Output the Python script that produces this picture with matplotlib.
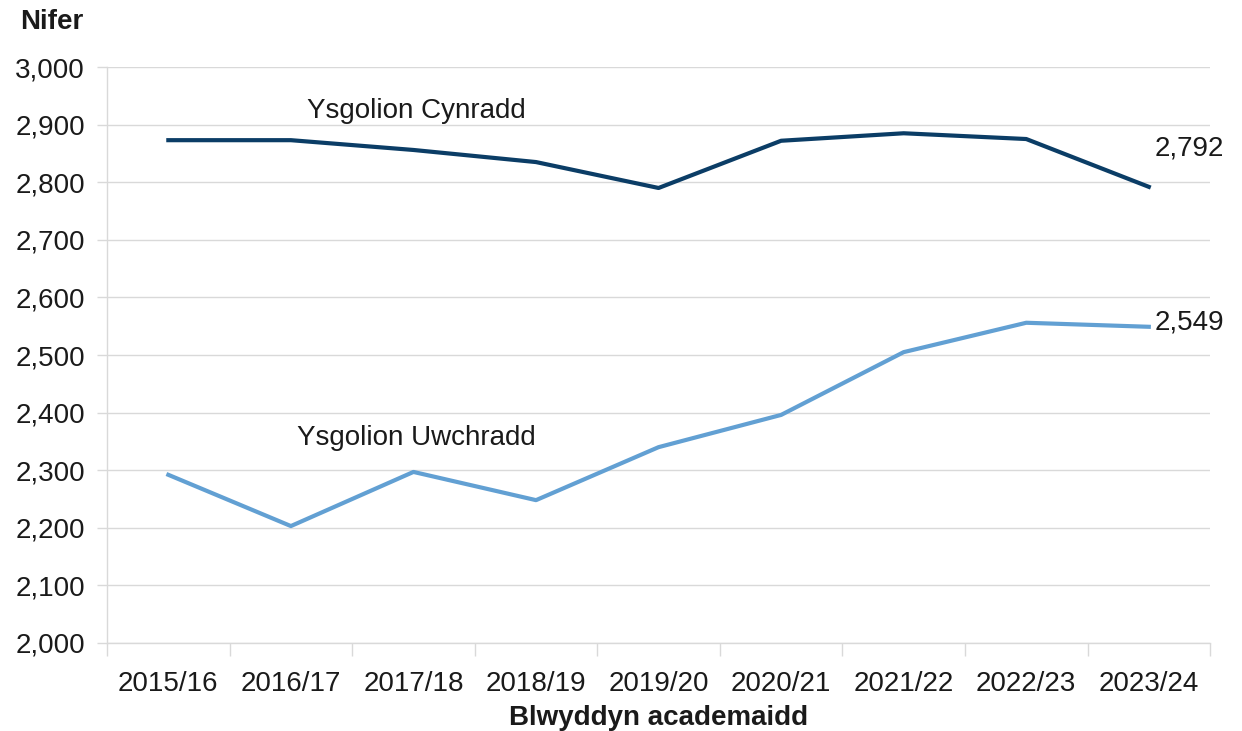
import matplotlib
matplotlib.use("Agg")
import matplotlib.pyplot as plt
import numpy as np

plt.rcParams['font.family'] = ['Liberation Sans', 'DejaVu Sans']

years = ["2015/16", "2016/17", "2017/18", "2018/19", "2019/20",
         "2020/21", "2021/22", "2022/23", "2023/24"]
cynradd = [2873, 2873, 2856, 2835, 2790, 2872, 2885, 2875, 2792]
uwchradd = [2292, 2203, 2297, 2248, 2340, 2396, 2505, 2556, 2549]
yticks = list(range(2000, 3001, 100))

dark = "#0b3d66"
light = "#62a0d3"
grid = "#d9d9d9"
txt = "#1a1a1a"
fs = 20

fig = plt.figure(figsize=(12.42, 7.31), dpi=100)
ax = fig.add_axes([0.0862, 0.1204, 0.8881, 0.7879])

x = np.arange(len(years))
ax.plot(x, cynradd, color=dark, lw=3, solid_joinstyle='round')
ax.plot(x, uwchradd, color=light, lw=3, solid_joinstyle='round')

ax.set_xlim(-0.5, len(years) - 0.5)
ax.set_ylim(2000, 3000)
ax.set_yticks(yticks)
ax.set_yticklabels([f"{v:,}" for v in yticks])
ax.yaxis.grid(True, color=grid, lw=1)
ax.set_axisbelow(True)

ax.set_xticks(x)
ax.set_xticklabels(years)
ax.set_xticks(np.arange(-0.5, len(years)), minor=True)
ax.tick_params(axis='x', which='major', length=0, labelsize=fs, pad=20, colors=txt)
ax.tick_params(axis='x', which='minor', length=9, color=grid, width=1)
ax.tick_params(axis='y', length=7, color=grid, width=1, labelsize=fs, pad=9, colors=txt)

for s in ['top', 'right']:
    ax.spines[s].set_visible(False)
for s in ['left', 'bottom']:
    ax.spines[s].set_color(grid)
    ax.spines[s].set_linewidth(1)

ax.text(2.02, 2924, "Ysgolion Cynradd", ha='center', va='center', fontsize=fs, color=txt)
ax.text(2.02, 2356, "Ysgolion Uwchradd", ha='center', va='center', fontsize=fs, color=txt)
ax.text(8.05, 2858, f"{cynradd[-1]:,}", ha='left', va='center', fontsize=fs, color=txt)
ax.text(8.05, uwchradd[-1] + 8, f"{uwchradd[-1]:,}", ha='left', va='center', fontsize=fs, color=txt)

fig.text(0.042, 0.970, "Nifer", ha='center', va='center', fontsize=fs, fontweight='bold', color=txt)
ax.set_xlabel("Blwyddyn academaidd", fontsize=fs, fontweight='bold', labelpad=6, color=txt)

fig.savefig("out.png", dpi=100, facecolor='white')
